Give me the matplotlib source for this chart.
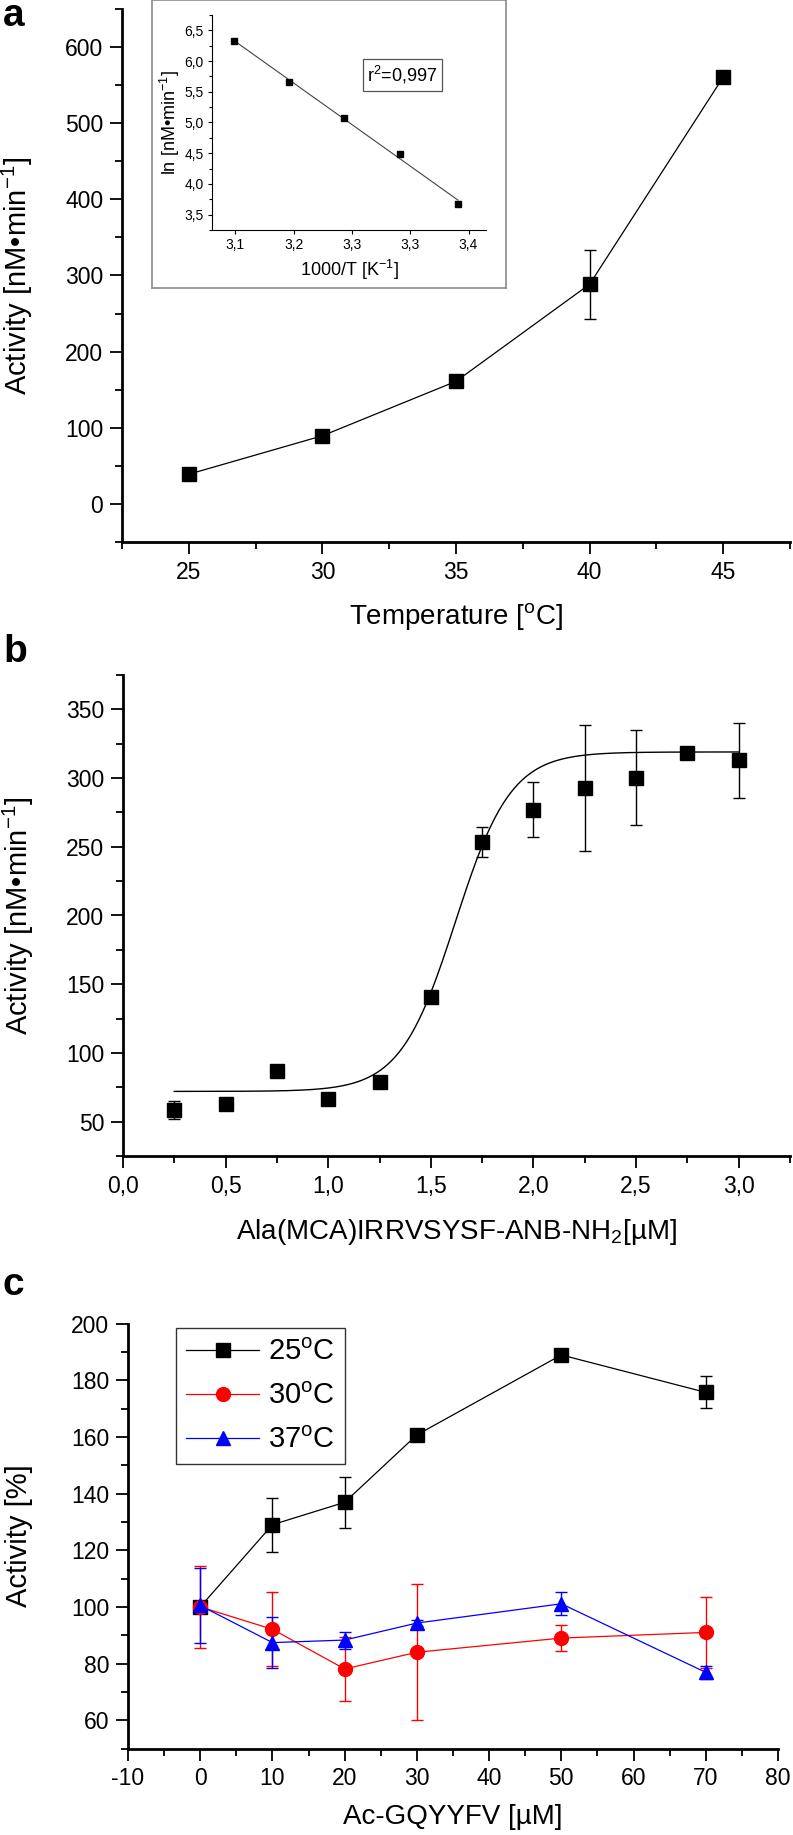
import numpy as np
import matplotlib
matplotlib.use("Agg")
import matplotlib.pyplot as plt
from matplotlib.ticker import MultipleLocator, FuncFormatter

plt.rcParams['font.family'] = ['Liberation Sans', 'DejaVu Sans']
plt.rcParams['mathtext.fontset'] = 'custom'
plt.rcParams['mathtext.rm'] = 'Liberation Sans'
plt.rcParams['mathtext.it'] = 'Liberation Sans:italic'
plt.rcParams['mathtext.bf'] = 'Liberation Sans:bold'
plt.rcParams['axes.unicode_minus'] = False

# --- panel a: activity vs temperature ---
temp_c = [25, 30, 35, 40, 45]
act_a = [39, 89.5, 161, 288.5, 560.5]
err_a = [3, 5, 6, 45, 8]

# inset: Arrhenius plot
inv_t = [3.149, 3.196, 3.243, 3.291, 3.341]
ln_act = [6.327, 5.665, 5.078, 4.49, 3.678]
inset_xticks = [3.15, 3.20, 3.25, 3.30, 3.35]
inset_xticklabels = ['3,1', '3,2', '3,3', '3,3', '3,4']

# --- panel b: substrate titration ---
conc_b = [0.25, 0.5, 0.75, 1.0, 1.25, 1.5, 1.75, 2.0, 2.25, 2.5, 2.75, 3.0]
act_b = [58.6, 63.2, 86.8, 66.7, 78.8, 140.9, 253.5, 276.9, 292.7, 300.2, 318.6, 312.9]
err_b = [6.5, 2, 2, 3, 3, 3, 11, 20, 46, 34.6, 3, 27.5]
# Boltzmann fit parameters
fit_a1, fit_a2, fit_x0, fit_dx = 72, 319, 1.62, 0.135

# --- panel c: effect of Ac-GQYYFV ---
conc_c = [0, 10, 20, 30, 50, 70]
act_25 = [100, 129, 136.9, 160.7, 188.9, 175.7]
err_25 = [1, 9.6, 9, 1, 1, 5.6]
act_30 = [100, 92.1, 78.1, 84, 89, 91]
err_30 = [14.6, 13, 11.3, 24, 4.6, 12.5]
act_37 = [100.5, 87.4, 88.3, 94.3, 101.1, 76.9]
err_37 = [13.4, 8.9, 3, 1, 4, 2.4]

W, H = 793, 1835
fig = plt.figure(figsize=(W / 100, H / 100), dpi=100)


def px_axes(left, top, right, bottom):
    return fig.add_axes([left / W, 1 - bottom / H, (right - left) / W, (bottom - top) / H])


def style(ax, tick_size=16.5):
    for s in ['top', 'right']:
        ax.spines[s].set_visible(False)
    for s in ['left', 'bottom']:
        ax.spines[s].set_linewidth(2)
    ax.tick_params(which='major', direction='out', length=8.5, width=1.3, labelsize=tick_size, pad=5)
    ax.tick_params(which='minor', direction='out', length=5, width=1.3)


comma = FuncFormatter(lambda v, p: f'{v:.1f}'.replace('.', ','))

# panel a
ax1 = px_axes(122, 9, 790, 542)
style(ax1)
ax1.errorbar(temp_c, act_a, yerr=err_a, color='black', marker='s', ms=10.5, lw=0.9,
             elinewidth=1, capsize=4, capthick=1)
ax1.set_xlim(22.5, 47.5)
ax1.set_ylim(-50, 650)
ax1.xaxis.set_major_locator(MultipleLocator(5))
ax1.xaxis.set_minor_locator(MultipleLocator(2.5))
ax1.yaxis.set_major_locator(MultipleLocator(100))
ax1.yaxis.set_minor_locator(MultipleLocator(50))
ax1.set_xlabel('Temperature [$^\\mathrm{o}$C]', fontsize=20, va='center')
ax1.xaxis.set_label_coords(0.5, -0.139)
ax1.set_ylabel('Activity [nM\u2022min$^{-1}$]', fontsize=21, va='center')
ax1.yaxis.set_label_coords(-0.156, 0.5)

# inset frame
frame = px_axes(152, 0, 506, 288)
frame.set_xticks([])
frame.set_yticks([])
for s in frame.spines.values():
    s.set_color('#8a8a8a')
    s.set_linewidth(1.2)

ins = px_axes(212, 15, 486, 230)
ins.patch.set_alpha(0)
for s in ['top', 'right']:
    ins.spines[s].set_visible(False)
ins.tick_params(which='major', direction='out', length=3, width=0.8, labelsize=10, pad=3)
ins.tick_params(which='minor', direction='out', length=2, width=0.8)
coef = np.polyfit(inv_t, ln_act, 1)
ins.plot([inv_t[0], inv_t[-1]], np.polyval(coef, [inv_t[0], inv_t[-1]]), color='#444444', lw=0.8)
ins.plot(inv_t, ln_act, 's', color='black', ms=4)
ins.set_xlim(3.13, 3.365)
ins.set_ylim(3.25, 6.75)
ins.set_xticks(inset_xticks)
ins.set_xticklabels(inset_xticklabels)
ins.yaxis.set_major_locator(MultipleLocator(0.5))
ins.yaxis.set_minor_locator(MultipleLocator(0.25))
ins.yaxis.set_major_formatter(comma)
ins.set_xlabel('1000/T [K$^{-1}$]', fontsize=13)
ins.set_ylabel('ln [nM\u2022min$^{-1}$]', fontsize=13, labelpad=2)
ins.text(0.694, 0.721, 'r$^2$=0,997', transform=ins.transAxes, fontsize=13,
         ha='center', va='center',
         bbox=dict(boxstyle='square,pad=0.25', fc='white', ec='#555555', lw=0.9))

# panel b
ax2 = px_axes(123, 675, 790, 1156)
style(ax2)
xf = np.linspace(conc_b[0], conc_b[-1], 300)
ax2.plot(xf, fit_a2 + (fit_a1 - fit_a2) / (1 + np.exp((xf - fit_x0) / fit_dx)), color='black', lw=1)
ax2.errorbar(conc_b, act_b, yerr=err_b, color='black', marker='s', ms=10.5, ls='none',
             elinewidth=1, capsize=4, capthick=1)
ax2.set_xlim(0, 3.25)
ax2.set_ylim(25, 375)
ax2.xaxis.set_major_locator(MultipleLocator(0.5))
ax2.xaxis.set_minor_locator(MultipleLocator(0.25))
ax2.xaxis.set_major_formatter(comma)
ax2.yaxis.set_major_locator(MultipleLocator(50))
ax2.yaxis.set_minor_locator(MultipleLocator(25))
ax2.set_xlabel('Ala(MCA)IRRVSYSF-ANB-NH$_2$[\u00b5M]', fontsize=20, va='center')
ax2.xaxis.set_label_coords(0.5, -0.159)
ax2.set_ylabel('Activity [nM\u2022min$^{-1}$]', fontsize=21, va='center')
ax2.yaxis.set_label_coords(-0.157, 0.5)

# panel c
ax3 = px_axes(128, 1323.5, 778, 1748.6)
style(ax3)
ax3.errorbar(conc_c, act_25, yerr=err_25, color='black', marker='s', ms=9.5, lw=0.9,
             elinewidth=1, capsize=4, capthick=1, label='25$^\\mathrm{o}$C')
ax3.errorbar(conc_c, act_30, yerr=err_30, color='red', marker='o', ms=10, lw=0.9,
             elinewidth=1, capsize=4, capthick=1, label='30$^\\mathrm{o}$C')
ax3.errorbar(conc_c, act_37, yerr=err_37, color='blue', marker='^', ms=10.5, lw=0.9,
             elinewidth=1, capsize=4, capthick=1, label='37$^\\mathrm{o}$C')
ax3.set_xlim(-10, 80)
ax3.set_ylim(50, 200)
ax3.xaxis.set_major_locator(MultipleLocator(10))
ax3.xaxis.set_minor_locator(MultipleLocator(5))
ax3.yaxis.set_major_locator(MultipleLocator(20))
ax3.yaxis.set_minor_locator(MultipleLocator(10))
ax3.set_xlabel('Ac-GQYYFV [\u00b5M]', fontsize=20, va='center')
ax3.xaxis.set_label_coords(0.5, -0.161)
ax3.set_ylabel('Activity [%]', fontsize=21, va='center')
ax3.yaxis.set_label_coords(-0.168, 0.5)
handles, labels = ax3.get_legend_handles_labels()
handles = [h[0] for h in handles]
leg = ax3.legend(handles, labels, loc='upper left', bbox_to_anchor=(0.074, 0.99), borderaxespad=0,
                 fontsize=21, handlelength=2.5, handletextpad=0.3, labelspacing=0.55,
                 borderpad=0.35, fancybox=False, framealpha=1)
leg.get_frame().set_edgecolor('#333333')
leg.get_frame().set_linewidth(1)

# panel letters
fig.text(3 / W, 1 - 26 / H, 'a', fontsize=28, fontweight='bold', va='baseline')
fig.text(3 / W, 1 - 662 / H, 'b', fontsize=28, fontweight='bold', va='baseline')
fig.text(3 / W, 1 - 1295 / H, 'c', fontsize=28, fontweight='bold', va='baseline')

fig.savefig('out.png', dpi=100)
